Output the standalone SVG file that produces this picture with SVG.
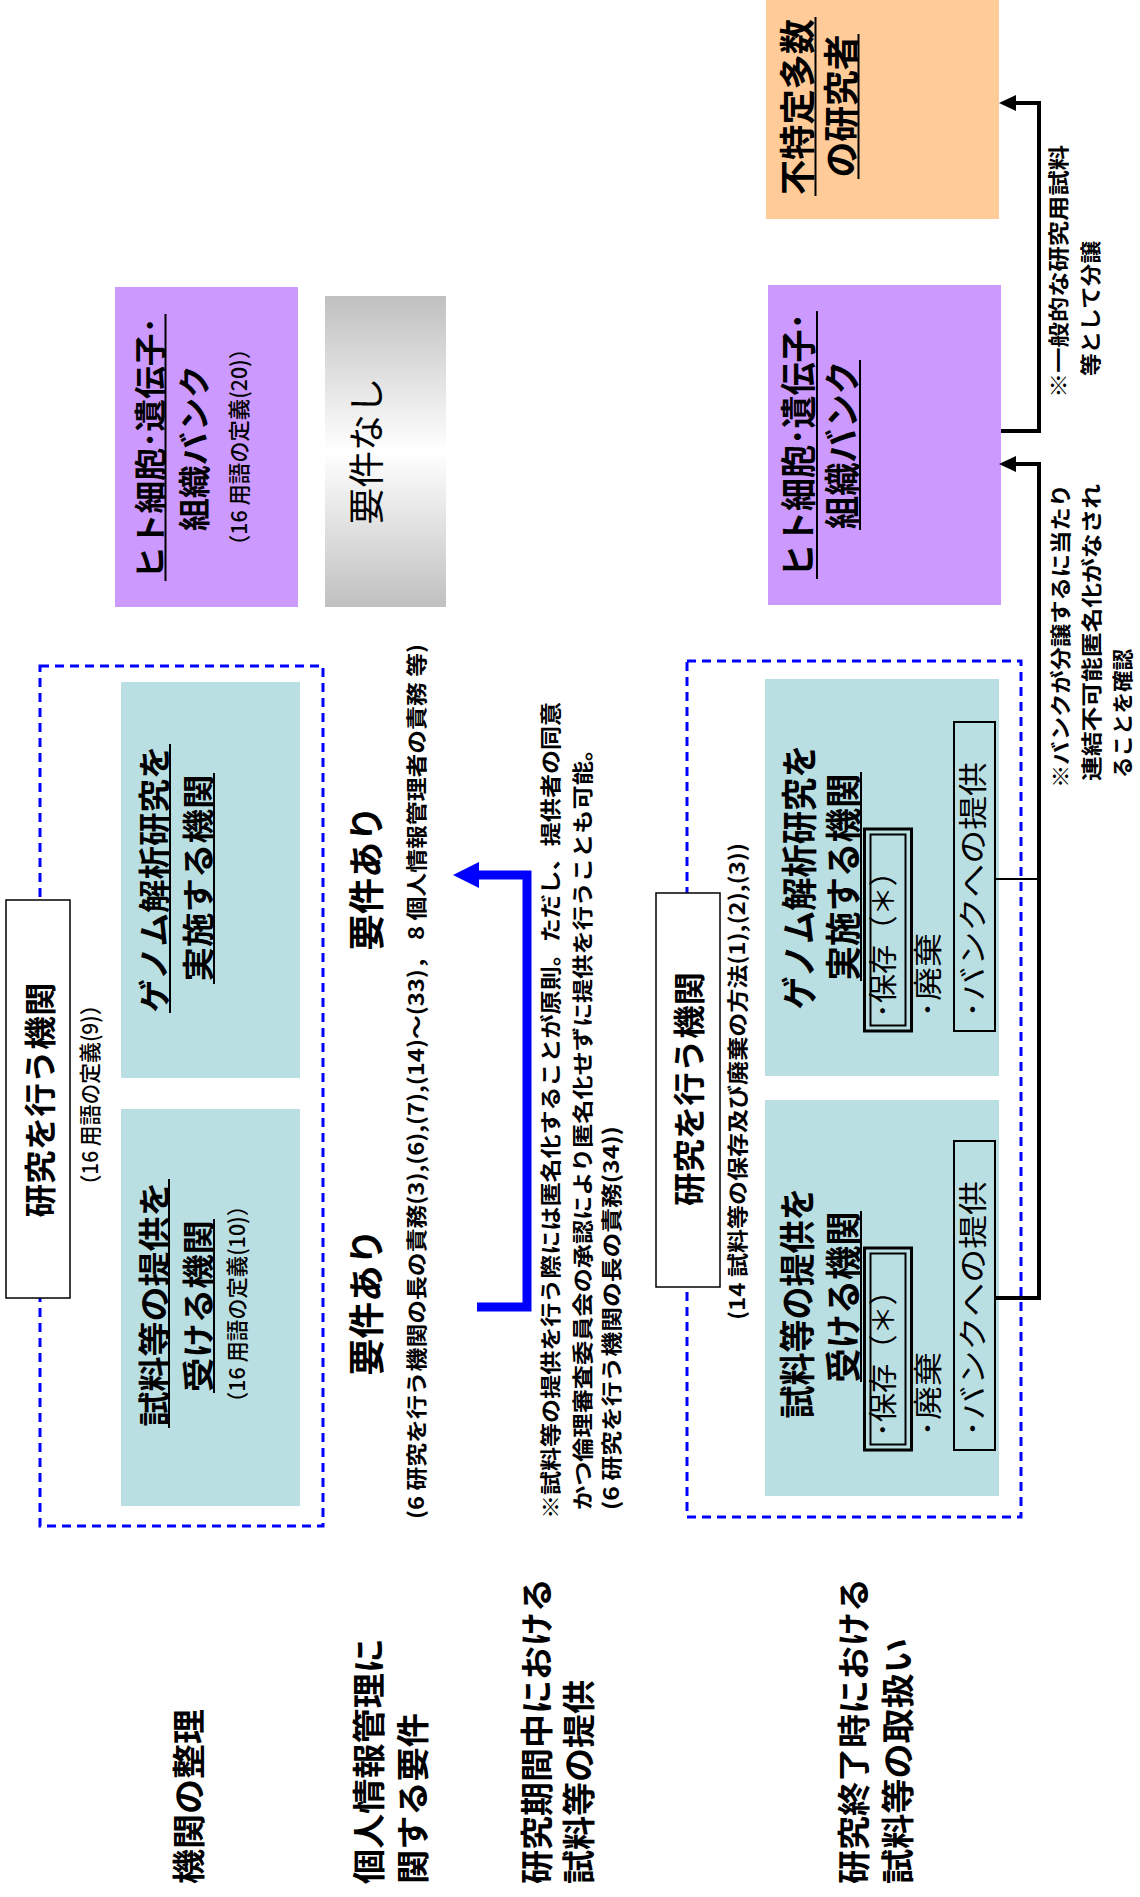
<svg xmlns="http://www.w3.org/2000/svg" width="1140" height="1897" viewBox="0 0 1140 1897">
<defs>
<linearGradient id="gray" x1="0" y1="0" x2="0" y2="1">
<stop offset="0" stop-color="#C0C0C0"/>
<stop offset="0.5" stop-color="#FFFFFF"/>
<stop offset="1" stop-color="#C0C0C0"/>
</linearGradient>
</defs>
<style>
text{font-family:"Noto Sans CJK JP","Noto Sans CJK SC",sans-serif;fill:#000}
.t{font-size:32px;font-weight:700}
.t2{font-size:36px;font-weight:700}
.r{font-size:36px;font-weight:400}
.s{font-size:22px;font-weight:500}
.n{font-size:21px;font-weight:700}
.m{font-size:29px;font-weight:400}
.row{font-size:33px;font-weight:700}
.purple{fill:#CC99FF}
.orange{fill:#FFCC99}
.cyan{fill:#B9DFE3}
.dash{fill:none;stroke:#0000FF;stroke-width:3;stroke-dasharray:9 6}
.wbox{fill:#FFFFFF;stroke:#000;stroke-width:1.5}
.ul{stroke:#000;stroke-width:2}
.ibox{fill:none;stroke:#000;stroke-width:2}
.conn{fill:none;stroke:#000;stroke-width:4}
</style>

<g id="bank-left">
<rect class="purple" x="115" y="287" width="183" height="320"/>
<text class="t" transform="translate(162,448) rotate(-90)" text-anchor="middle" textLength="262" lengthAdjust="spacingAndGlyphs">ヒト細胞･遺伝子･</text>
<line class="ul" x1="165.5" y1="314" x2="165.5" y2="581"/>
<text class="t" transform="translate(206,448) rotate(-90)" text-anchor="middle" textLength="166" lengthAdjust="spacingAndGlyphs">組織バンク</text>
<text class="s" transform="translate(247,447) rotate(-90)" text-anchor="middle" textLength="218" lengthAdjust="spacingAndGlyphs">（16 用語の定義(20)）</text>
</g>

<g id="none">
<rect x="325" y="296" width="121" height="311" fill="url(#gray)"/>
<text class="r" transform="translate(380,451) rotate(-90)" text-anchor="middle" textLength="147" lengthAdjust="spacingAndGlyphs">要件なし</text>
</g>

<g id="public">
<rect class="orange" x="766" y="0" width="233" height="219"/>
<text class="t2" transform="translate(811,107) rotate(-90)" text-anchor="middle" textLength="176" lengthAdjust="spacingAndGlyphs">不特定多数</text>
<line class="ul" x1="815.5" y1="17" x2="815.5" y2="196"/>
<text class="t2" transform="translate(855,106) rotate(-90)" text-anchor="middle" textLength="143" lengthAdjust="spacingAndGlyphs">の研究者</text>
<line class="ul" x1="858.5" y1="34" x2="858.5" y2="179"/>
</g>

<g id="bank-right">
<rect class="purple" x="768" y="285" width="233" height="320"/>
<text class="t2" transform="translate(812,445) rotate(-90)" text-anchor="middle" textLength="264" lengthAdjust="spacingAndGlyphs">ヒト細胞･遺伝子･</text>
<line class="ul" x1="817" y1="311" x2="817" y2="579"/>
<text class="t2" transform="translate(856,445) rotate(-90)" text-anchor="middle" textLength="168" lengthAdjust="spacingAndGlyphs">組織バンク</text>
<line class="ul" x1="860" y1="360" x2="860" y2="530"/>
</g>

<g id="group1">
<rect class="dash" x="40" y="666" width="283" height="860"/>
<rect class="wbox" x="6" y="900" width="64" height="398"/>
<text class="t" transform="translate(52,1100) rotate(-90)" text-anchor="middle" textLength="235" lengthAdjust="spacingAndGlyphs">研究を行う機関</text>
<text class="s" transform="translate(98,1095) rotate(-90)" text-anchor="middle" textLength="201" lengthAdjust="spacingAndGlyphs">（16 用語の定義(9)）</text>
</g>

<g id="genome1">
<rect class="cyan" x="121" y="682" width="179" height="396"/>
<text class="t" transform="translate(166,879) rotate(-90)" text-anchor="middle" textLength="267" lengthAdjust="spacingAndGlyphs">ゲノム解析研究を</text>
<line class="ul" x1="170" y1="744" x2="170" y2="1013"/>
<text class="t" transform="translate(210,878) rotate(-90)" text-anchor="middle" textLength="207" lengthAdjust="spacingAndGlyphs">実施する機関</text>
<line class="ul" x1="214" y1="773" x2="214" y2="984"/>
</g>

<g id="provider1">
<rect class="cyan" x="121" y="1109" width="179" height="397"/>
<text class="t" transform="translate(166,1304) rotate(-90)" text-anchor="middle" textLength="245" lengthAdjust="spacingAndGlyphs">試料等の提供を</text>
<line class="ul" x1="169" y1="1179" x2="169" y2="1428"/>
<text class="t" transform="translate(210,1306) rotate(-90)" text-anchor="middle" textLength="172" lengthAdjust="spacingAndGlyphs">受ける機関</text>
<line class="ul" x1="214" y1="1219" x2="214" y2="1393"/>
<text class="s" transform="translate(245,1304) rotate(-90)" text-anchor="middle" textLength="218" lengthAdjust="spacingAndGlyphs">（16 用語の定義(10)）</text>
</g>

<g id="req1">
<text class="t2" transform="translate(380,878) rotate(-90)" text-anchor="middle" textLength="145" lengthAdjust="spacingAndGlyphs">要件あり</text>
<text class="t2" transform="translate(380,1302) rotate(-90)" text-anchor="middle" textLength="147" lengthAdjust="spacingAndGlyphs">要件あり</text>
<text class="n" transform="translate(424,1519) rotate(-90)" textLength="875" lengthAdjust="spacingAndGlyphs">(6 研究を行う機関の長の責務(3),(6),(7),(14)～(33)， 8 個人情報管理者の責務 等)</text>
</g>

<g id="note-provide">
<text class="n" transform="translate(558,1519) rotate(-90)" textLength="817" lengthAdjust="spacingAndGlyphs">※試料等の提供を行う際には匿名化することが原則。ただし、提供者の同意</text>
<text class="n" transform="translate(590,1510) rotate(-90)" textLength="773" lengthAdjust="spacingAndGlyphs">かつ倫理審査委員会の承認により匿名化せずに提供を行うことも可能。</text>
<text class="n" transform="translate(619,1510) rotate(-90)" textLength="384" lengthAdjust="spacingAndGlyphs">(6 研究を行う機関の長の責務(34))</text>
</g>

<g id="group2">
<rect class="dash" x="687" y="661" width="334" height="856"/>
<rect class="wbox" x="656" y="893" width="64" height="394"/>
<text class="t" transform="translate(701,1089) rotate(-90)" text-anchor="middle" textLength="234" lengthAdjust="spacingAndGlyphs">研究を行う機関</text>
<text class="n" transform="translate(745,1320) rotate(-90)" textLength="477" lengthAdjust="spacingAndGlyphs">(14 試料等の保存及び廃棄の方法(1),(2),(3))</text>
</g>

<g id="genome2">
<rect class="cyan" x="765" y="679" width="234" height="397"/>
<text class="t2" transform="translate(813,877) rotate(-90)" text-anchor="middle" textLength="265" lengthAdjust="spacingAndGlyphs">ゲノム解析研究を</text>
<text class="t2" transform="translate(857,877) rotate(-90)" text-anchor="middle" textLength="207" lengthAdjust="spacingAndGlyphs">実施する機関</text>
<line class="ul" x1="861" y1="772" x2="861" y2="981"/>
<rect x="864.5" y="829" width="47" height="202" fill="none" stroke="#000" stroke-width="3"/>
<rect x="870.5" y="834.5" width="35" height="191" fill="none" stroke="#000" stroke-width="2"/>
<text class="m" transform="translate(894,1018) rotate(-90)" textLength="161" lengthAdjust="spacingAndGlyphs">･保存（＊）</text>
<text class="m" transform="translate(939,1018) rotate(-90)" textLength="85" lengthAdjust="spacingAndGlyphs">･廃棄</text>
<rect class="ibox" x="954" y="722" width="41" height="309"/>
<text class="m" transform="translate(984,1018) rotate(-90)" textLength="256" lengthAdjust="spacingAndGlyphs">･バンクへの提供</text>
</g>

<g id="provider2">
<rect class="cyan" x="765" y="1100" width="234" height="396"/>
<text class="t2" transform="translate(811,1303) rotate(-90)" text-anchor="middle" textLength="231" lengthAdjust="spacingAndGlyphs">試料等の提供を</text>
<text class="t2" transform="translate(857,1297) rotate(-90)" text-anchor="middle" textLength="171" lengthAdjust="spacingAndGlyphs">受ける機関</text>
<line class="ul" x1="861" y1="1211" x2="861" y2="1382"/>
<rect x="864.5" y="1248" width="47" height="202" fill="none" stroke="#000" stroke-width="3"/>
<rect x="870.5" y="1253.5" width="35" height="191" fill="none" stroke="#000" stroke-width="2"/>
<text class="m" transform="translate(894,1437) rotate(-90)" textLength="161" lengthAdjust="spacingAndGlyphs">･保存（＊）</text>
<text class="m" transform="translate(939,1437) rotate(-90)" textLength="85" lengthAdjust="spacingAndGlyphs">･廃棄</text>
<rect class="ibox" x="954" y="1141" width="41" height="309"/>
<text class="m" transform="translate(984,1437) rotate(-90)" textLength="256" lengthAdjust="spacingAndGlyphs">･バンクへの提供</text>
</g>

<g id="notes-right">
<text class="n" transform="translate(1066,398) rotate(-90)" textLength="253" lengthAdjust="spacingAndGlyphs">※一般的な研究用試料</text>
<text class="n" transform="translate(1098,376) rotate(-90)" textLength="135" lengthAdjust="spacingAndGlyphs">等として分譲</text>
<text class="n" transform="translate(1068,788) rotate(-90)" textLength="304" lengthAdjust="spacingAndGlyphs">※バンクが分譲するに当たり</text>
<text class="n" transform="translate(1099,781) rotate(-90)" textLength="297" lengthAdjust="spacingAndGlyphs">連結不可能匿名化がなされ</text>
<text class="n" transform="translate(1130,778) rotate(-90)" textLength="129" lengthAdjust="spacingAndGlyphs">ることを確認</text>
</g>

<g id="row-labels">
<text class="row" transform="translate(201,1884) rotate(-90)" textLength="175" lengthAdjust="spacingAndGlyphs">機関の整理</text>
<text class="row" transform="translate(381,1884) rotate(-90)" textLength="246" lengthAdjust="spacingAndGlyphs">個人情報管理に</text>
<text class="row" transform="translate(425,1884) rotate(-90)" textLength="171" lengthAdjust="spacingAndGlyphs">関する要件</text>
<text class="row" transform="translate(549,1884) rotate(-90)" textLength="306" lengthAdjust="spacingAndGlyphs">研究期間中における</text>
<text class="row" transform="translate(591,1884) rotate(-90)" textLength="204" lengthAdjust="spacingAndGlyphs">試料等の提供</text>
<text class="row" transform="translate(866,1884) rotate(-90)" textLength="306" lengthAdjust="spacingAndGlyphs">研究終了時における</text>
<text class="row" transform="translate(910,1884) rotate(-90)" textLength="246" lengthAdjust="spacingAndGlyphs">試料等の取扱い</text>
</g>

<g id="connectors">
<path d="M477 1307 H527 V875 H476" fill="none" stroke="#0000FF" stroke-width="9"/>
<polygon points="453,875 479,862 479,888" fill="#0000FF"/>
<path d="M995 879 H1039" fill="none" stroke="#000" stroke-width="2"/>
<path class="conn" d="M995 1298 H1039 V464 H1012"/>
<polygon points="999,464 1016,456 1016,472" fill="#000"/>
<path class="conn" d="M1001 431 H1039 V103 H1012"/>
<polygon points="999,103 1016,95 1016,111" fill="#000"/>
</g>
</svg>
